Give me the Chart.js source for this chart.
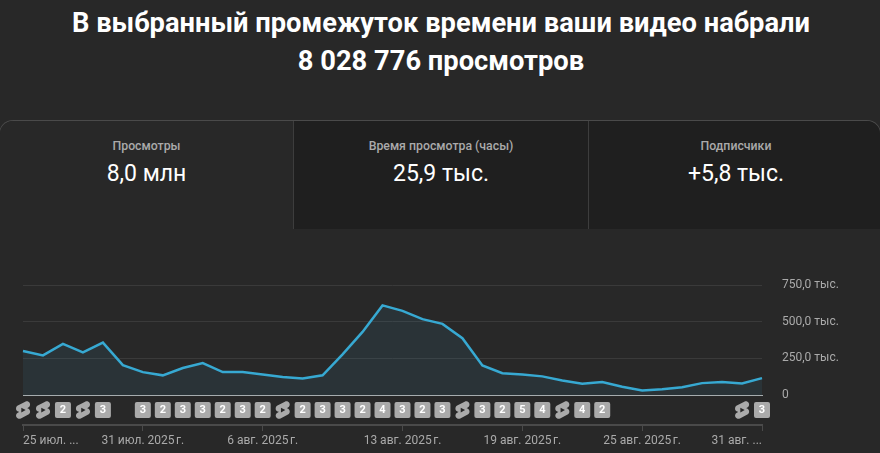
<!DOCTYPE html>
<html lang="ru">
<head>
<meta charset="utf-8">
<title>Просмотры</title>
<script src="https://cdn.jsdelivr.net/npm/chart.js@4"></script>
<style>
  html, body { margin: 0; padding: 0; background: #282828; }
  body { width: 880px; height: 453px; position: relative; overflow: hidden; font-family: Roboto, sans-serif; }
  h1 { position: absolute; left: 1px; top: 4px; width: 880px; margin: 0; text-align: center; color: #fff;
       font-size: 27.3px; font-weight: 700; line-height: 38px; }
  .cards { position: absolute; left: -1px; top: 120px; width: 882px; height: 109px; display: flex; box-sizing: border-box;
           border: 1px solid #4a4a4a; border-bottom: 0; border-radius: 14px 14px 0 0; overflow: hidden; }
  .card { height: 108px; text-align: center; background: #1f1f1f; box-sizing: border-box; border-left: 1px solid #3d3d3d; }
  .card:first-child { background: #282828; border-left: 0; width: 293px; }
  .card:nth-child(2) { width: 295px; }
  .card:nth-child(3) { width: 292px; padding-left: 3px; }
  .card .name { margin-top: 18px; font-size: 12.3px; font-weight: 500; line-height: 14px; color: #aaa; }
  .card .num { margin-top: 6px; font-size: 23px; line-height: 30px; color: #fff; }
  .wrap { position: absolute; left: 0; top: 270px; width: 880px; height: 183px; }
</style>
</head>
<body>
<h1>В выбранный промежуток времени ваши видео набрали<br>8 028 776 просмотров</h1>
<div class="cards">
  <div class="card"><div class="name">Просмотры</div><div class="num">8,0 млн</div></div>
  <div class="card"><div class="name">Время просмотра (часы)</div><div class="num">25,9 тыс.</div></div>
  <div class="card"><div class="name">Подписчики</div><div class="num">+5,8 тыс.</div></div>
</div>
<div class="wrap"><canvas id="viewsChart"></canvas></div>
<script>
const days = [
  '25.07', '26.07', '27.07', '28.07', '29.07', '30.07', '31.07',
  '01.08', '02.08', '03.08', '04.08', '05.08', '06.08', '07.08',
  '08.08', '09.08', '10.08', '11.08', '12.08', '13.08', '14.08',
  '15.08', '16.08', '17.08', '18.08', '19.08', '20.08', '21.08',
  '22.08', '23.08', '24.08', '25.08', '26.08', '27.08', '28.08',
  '29.08', '30.08', '31.08'
];
const views = [
  300000, 270000, 348000, 291000, 357000, 204000, 156000, 134000, 184000, 218000,
  156000, 156000, 140000, 122000, 113000, 134000, 277000, 430000, 611000, 574000,
  517000, 485000, 387000, 202000, 149000, 140000, 127000, 99000, 77000, 88000,
  56000, 31000, 40000, 53000, 81000, 88000, 79000, 115000
];
// s = shorts icon, digit = number of uploads that day, empty = nothing
const uploads = [
  's', 's', '2', 's', '3', '', '3', '2', '3', '3',
  '2', '3', '2', 's', '2', '3', '3', '2', '4', '3',
  '2', '3', 's', '3', '2', '5', '4', 's', '4', '2',
  '', '', '', '', '', '', 's', '3'
];
const dateTicks = [0, 6, 12, 19, 25, 31, 37];
const dateTickLabels = [
  '25 июл. ...', '31 июл. 2025\u202Fг.', '6 авг. 2025\u202Fг.', '13 авг. 2025\u202Fг.',
  '19 авг. 2025\u202Fг.', '25 авг. 2025\u202Fг.', '31 авг. ...'
];
const yTicks = [0, 250000, 500000, 750000];
const yTickLabels = ['0', '250,0 тыс.', '500,0 тыс.', '750,0 тыс.'];

const shortsIcon = new Path2D('M17.77 10.32c-.77-.32-1.2-.5-1.2-.5L18 9.06c1.84-.96 2.53-3.23 1.56-5.06s-3.24-2.53-5.07-1.56L6 6.94c-1.29.68-2.07 2.04-2 3.49.07 1.42.93 2.67 2.22 3.25.03.01 1.2.5 1.2.5L6 14.93c-1.83.97-2.53 3.24-1.56 5.07.97 1.83 3.24 2.53 5.07 1.56l8.5-4.5c1.29-.68 2.06-2.04 1.99-3.49-.07-1.42-.94-2.68-2.23-3.25zM10 14.65v-5.3L15 12l-5 2.65z');

// row of upload badges between the two x axes
const uploadBadges = {
  id: 'uploadBadges',
  afterDraw(chart) {
    const c = chart.ctx;
    const x = chart.scales.x;
    const cy = x.top + 15;
    c.save();
    uploads.forEach((mark, i) => {
      if (!mark) return;
      const px = x.getPixelForValue(i);
      if (mark === 's') {
        c.save();
        c.translate(px - 10.5, cy - 10.5);
        c.scale(0.88, 0.88);
        c.fillStyle = '#aaaaaa';
        c.fill(shortsIcon, 'evenodd');
        c.restore();
        return;
      }
      c.fillStyle = '#aaaaaa';
      c.beginPath();
      c.roundRect(px - 8, cy - 8, 16, 16, 2);
      c.fill();
      c.fillStyle = '#ffffff';
      c.font = '700 11px Roboto';
      c.textAlign = 'center';
      c.textBaseline = 'middle';
      c.fillText(mark, px, cy + 0.5);
    });
    c.restore();
  }
};

new Chart(document.getElementById('viewsChart'), {
  type: 'line',
  data: {
    labels: days,
    datasets: [{
      data: views,
      xAxisID: 'x',
      yAxisID: 'y',
      borderColor: '#37a9d2',
      borderWidth: 2.5,
      backgroundColor: 'rgba(62, 166, 208, 0.09)',
      fill: 'origin',
      pointRadius: 0,
      tension: 0
    }]
  },
  options: {
    responsive: true,
    maintainAspectRatio: false,
    animation: false,
    layout: { padding: { left: 23, top: 15, right: 0, bottom: 0 } },
    plugins: { legend: { display: false }, tooltip: { enabled: false } },
    scales: {
      x: {
        type: 'category',
        offset: false,
        weight: 0,
        grid: { display: false },
        border: { color: '#a6acae', width: 1 },
        ticks: { display: false },
        afterFit: scale => { scale.height = 30; }
      },
      dates: {
        type: 'category',
        position: 'bottom',
        offset: false,
        weight: 1,
        grid: { drawOnChartArea: false, color: '#4a4a4a', tickLength: 6, tickWidth: 1 },
        border: { color: '#4a4a4a', width: 2 },
        afterBuildTicks: scale => { scale.ticks = dateTicks.map(value => ({ value })); },
        ticks: {
          autoSkip: false,
          maxRotation: 0,
          align: 'inner',
          padding: 3,
          color: '#aaaaaa',
          font: { family: 'Roboto', size: 12 },
          callback: (value, index) => dateTickLabels[index]
        },
        afterFit: scale => { scale.height = 28; }
      },
      y: {
        position: 'right',
        min: 0,
        max: 750000,
        afterBuildTicks: scale => { scale.ticks = yTicks.map(value => ({ value })); },
        // the label gap comes from an invisible tick, ticks.padding would also shrink the plot height
        grid: { color: '#3a3a3a', tickColor: 'transparent', tickLength: 20 },
        border: { display: false },
        ticks: {
          padding: 0,
          color: '#aaaaaa',
          font: { family: 'Roboto', size: 12 },
          callback: (value, index) => yTickLabels[index]
        },
        afterFit: scale => { scale.width = 118; }
      }
    }
  },
  plugins: [uploadBadges]
});
</script>
</body>
</html>
